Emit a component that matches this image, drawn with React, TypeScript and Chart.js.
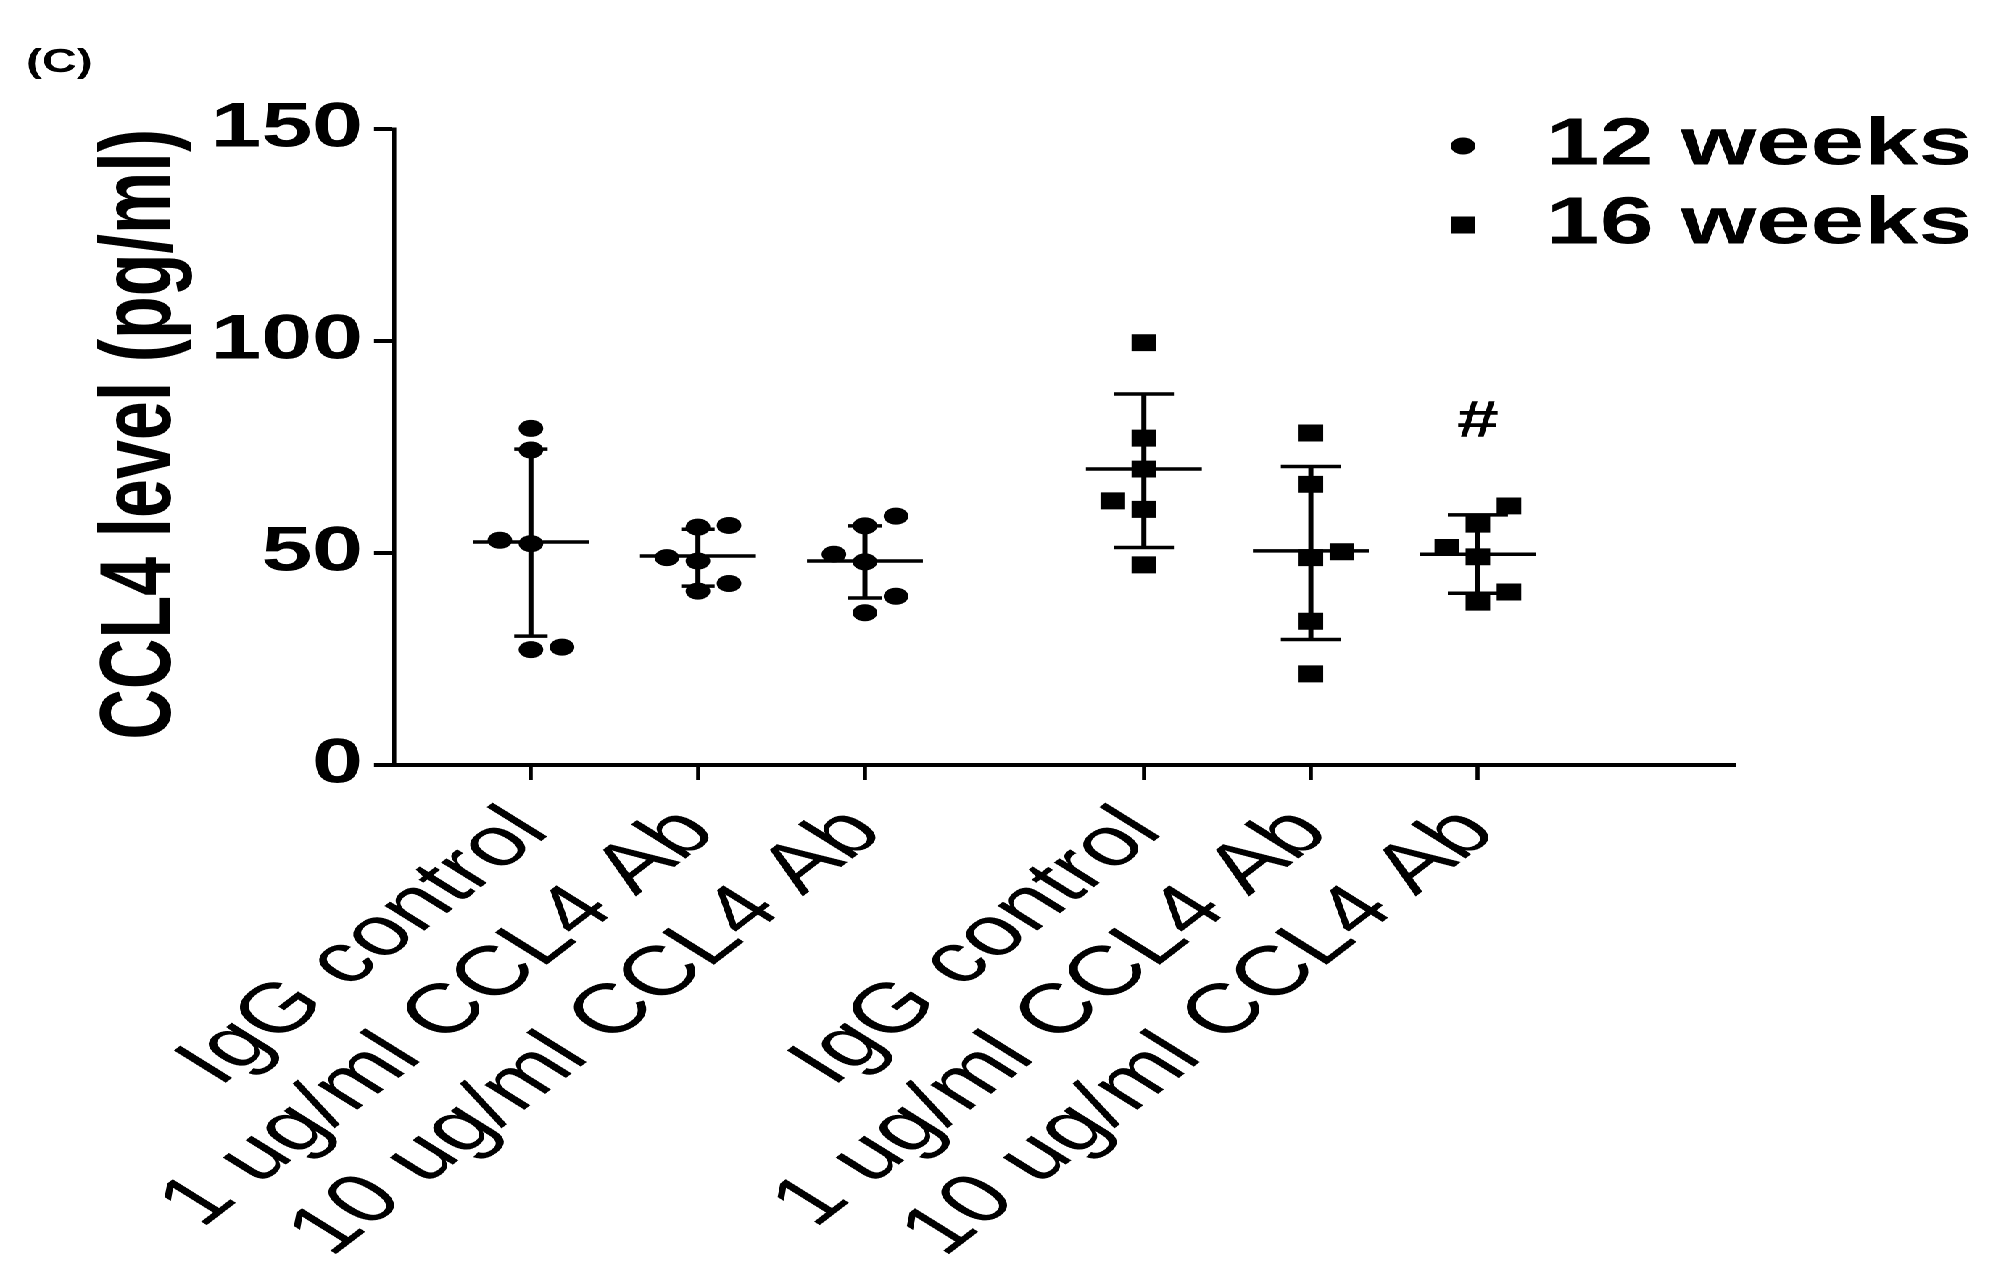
import React, { useEffect, useRef } from 'react';
import { Chart, registerables } from 'chart.js';

Chart.register(...registerables);

// ---------------- data ----------------
const categoryLabels = [
  'IgG control',
  '1 ug/ml CCL4 Ab',
  '10 ug/ml CCL4 Ab',
  'IgG control',
  '1 ug/ml CCL4 Ab',
  '10 ug/ml CCL4 Ab',
];
const seriesNames = ['12 weeks', '16 weeks'];
const yAxisTitle = 'CCL4 level (pg/ml)';
const panelLabel = '(C)';
const yTickValues = [0, 50, 100, 150];

// individual values, one row per group (12 weeks: first three categories)
const values12wk = [
  [79.4, 74.3, 53.0, 52.2, 27.2, 27.8],
  [56.1, 56.5, 48.9, 48.1, 41.0, 42.8],
  [58.7, 56.4, 49.7, 47.9, 39.8, 35.9],
];
// column of each dot inside its group (-1 left, 0 centre, 1 right)
const column12wk = [
  [0, 0, -1, 0, 0, 1],
  [0, 1, -1, 0, 0, 1],
  [1, 0, -1, 0, 1, 0],
];
// 16 weeks: last three categories
const values16wk = [
  [99.6, 77.1, 69.8, 62.3, 60.3, 47.2],
  [78.3, 66.2, 50.3, 48.9, 33.9, 21.5],
  [61.1, 56.8, 51.3, 49.1, 40.8, 38.4],
];
const column16wk = [
  [0, 0, 0, -1, 0, 0],
  [0, 0, 1, 0, 0, 0],
  [1, 0, -1, 0, 1, 0],
];
// mean and mean ± SD per category
const groupMean = [52.6, 49.3, 48.1, 69.8, 50.5, 49.7];
const groupUpper = [74.5, 55.6, 56.4, 87.5, 70.4, 59.0];
const groupLower = [30.4, 42.2, 39.4, 51.3, 29.6, 40.5];
// significance marks
const marks = [{ category: 5, value: 80.9, text: '#' }];

// ---------------- layout / style ----------------
const FONT = "'Liberation Sans', Arial, sans-serif";
const STRETCH = 1.45;
const CANVAS_W = 1376;
const CANVAS_H = 1267;
const categoryX = [1, 2, 3, 4.67, 5.67, 6.67];
const X_MIN = 0.18;
const X_MAX = 8.21;
const JITTER = 0.186;
const MEAN_HALF = 0.347;
const CAP_HALF = [0.1, 0.1, 0.1, 0.18, 0.18, 0.18];

const points12 = values12wk.flatMap((vals, g) =>
  vals.map((v, i) => ({ x: categoryX[g] + column12wk[g][i] * JITTER, y: v }))
);
const points16 = values16wk.flatMap((vals, g) =>
  vals.map((v, i) => ({ x: categoryX[g + 3] + column16wk[g][i] * JITTER, y: v }))
);

function summarySegments(groups: number[]) {
  const out: { x: number; y: number | null }[] = [];
  groups.forEach((g) => {
    const cx = categoryX[g];
    const cw = CAP_HALF[g];
    const gap = { x: cx, y: null };
    out.push(
      { x: cx - MEAN_HALF, y: groupMean[g] },
      { x: cx + MEAN_HALF, y: groupMean[g] },
      gap,
      { x: cx, y: groupLower[g] },
      { x: cx, y: groupUpper[g] },
      gap,
      { x: cx - cw, y: groupUpper[g] },
      { x: cx + cw, y: groupUpper[g] },
      gap,
      { x: cx - cw, y: groupLower[g] },
      { x: cx + cw, y: groupLower[g] },
      gap
    );
  });
  return out;
}

const overlayPlugin = {
  id: 'overlayText',
  afterDatasetsDraw(chart: any) {
    const ctx = chart.ctx as CanvasRenderingContext2D;
    const xs = chart.scales.x;
    const ys = chart.scales.y;
    ctx.save();
    ctx.fillStyle = '#000';
    // panel label
    ctx.font = `bold 33px ${FONT}`;
    ctx.textAlign = 'left';
    ctx.textBaseline = 'middle';
    ctx.fillText(panelLabel, 18, 63);
    // significance marks
    ctx.font = `bold 52px ${FONT}`;
    ctx.textAlign = 'center';
    marks.forEach((m) => {
      ctx.fillText(m.text, xs.getPixelForValue(categoryX[m.category]), ys.getPixelForValue(m.value));
    });
    // legend
    const mx = 1009;
    const tx = 1066;
    const rows = [146, 225];
    ctx.font = `bold 67px ${FONT}`;
    ctx.textAlign = 'left';
    seriesNames.forEach((name, i) => {
      const y = rows[i];
      ctx.beginPath();
      if (i === 0) {
        ctx.arc(mx, y, 8.5, 0, Math.PI * 2);
      } else {
        ctx.rect(mx - 8.5, y - 8.5, 17, 17);
      }
      ctx.fill();
      ctx.fillText(name, tx, y);
    });
    ctx.restore();
  },
};

export default function App() {
  const ref = useRef<HTMLCanvasElement>(null);

  useEffect(() => {
    document.body.style.margin = '0';
    const canvas = ref.current;
    if (!canvas) return;
    Chart.defaults.font.family = FONT;
    Chart.defaults.color = '#000';

    const chart = new Chart(canvas, {
      type: 'scatter',
      data: {
        datasets: [
          {
            label: seriesNames[0],
            data: points12,
            pointStyle: 'circle',
            pointRadius: 8.5,
            backgroundColor: '#000',
            borderColor: '#000',
            borderWidth: 0,
          },
          {
            label: seriesNames[1],
            data: points16,
            pointStyle: 'rect',
            pointRadius: 12,
            backgroundColor: '#000',
            borderColor: '#000',
            borderWidth: 0,
          },
          {
            label: seriesNames[0] + ' mean ± SD',
            data: summarySegments([0, 1, 2]) as any,
            showLine: true,
            spanGaps: false,
            pointRadius: 0,
            borderColor: '#000',
            borderWidth: 3.5,
            borderCapStyle: 'butt',
          },
          {
            label: seriesNames[1] + ' mean ± SD',
            data: summarySegments([3, 4, 5]) as any,
            showLine: true,
            spanGaps: false,
            pointRadius: 0,
            borderColor: '#000',
            borderWidth: 3.5,
            borderCapStyle: 'butt',
          },
        ],
      },
      options: {
        animation: false,
        responsive: false,
        devicePixelRatio: 2,
        events: [],
        layout: { padding: { top: 129, right: 179.4, left: 0, bottom: 0 } },
        plugins: {
          legend: { display: false },
          tooltip: { enabled: false },
        },
        scales: {
          x: {
            type: 'linear',
            min: X_MIN,
            max: X_MAX,
            afterBuildTicks: (scale: any) => {
              scale.ticks = categoryX.map((v) => ({ value: v }));
            },
            afterFit: (scale: any) => {
              scale.height = 502;
            },
            border: { display: true, color: '#000', width: 4 },
            grid: {
              display: true,
              drawOnChartArea: false,
              drawTicks: true,
              tickLength: 15,
              tickWidth: 2.8,
              tickColor: '#000',
            },
            ticks: {
              autoSkip: false,
              minRotation: 48,
              maxRotation: 48,
              padding: 12,
              color: '#000',
              font: { size: 70, family: FONT, weight: 'normal' },
              callback: (_v: any, i: number) => categoryLabels[i],
            },
          },
          y: {
            type: 'linear',
            min: 0,
            max: 150,
            afterBuildTicks: (scale: any) => {
              scale.ticks = yTickValues.map((v) => ({ value: v }));
            },
            afterFit: (scale: any) => {
              scale.width = 271.7;
            },
            border: { display: true, color: '#000', width: 2.8 },
            grid: {
              display: true,
              drawOnChartArea: false,
              drawTicks: true,
              tickLength: 13.8,
              tickWidth: 4,
              tickColor: '#000',
            },
            ticks: {
              padding: 7.6,
              color: '#000',
              font: { size: 63, family: FONT, weight: 'bold' },
            },
            title: {
              display: true,
              text: yAxisTitle,
              align: 'end',
              color: '#000',
              font: { size: 70, family: FONT, weight: 'bold' },
              padding: { top: 56, bottom: 0 },
            },
          },
        },
      },
      plugins: [overlayPlugin],
    } as any);

    return () => chart.destroy();
  }, []);

  return (
    <div
      style={{
        position: 'fixed',
        left: 0,
        top: 0,
        width: CANVAS_W,
        height: CANVAS_H,
        transform: `scaleX(${STRETCH})`,
        transformOrigin: '0 0',
        background: '#fff',
      }}
    >
      <canvas
        ref={ref}
        width={CANVAS_W}
        height={CANVAS_H}
        style={{ width: CANVAS_W + 'px', height: CANVAS_H + 'px', display: 'block' }}
      />
    </div>
  );
}
